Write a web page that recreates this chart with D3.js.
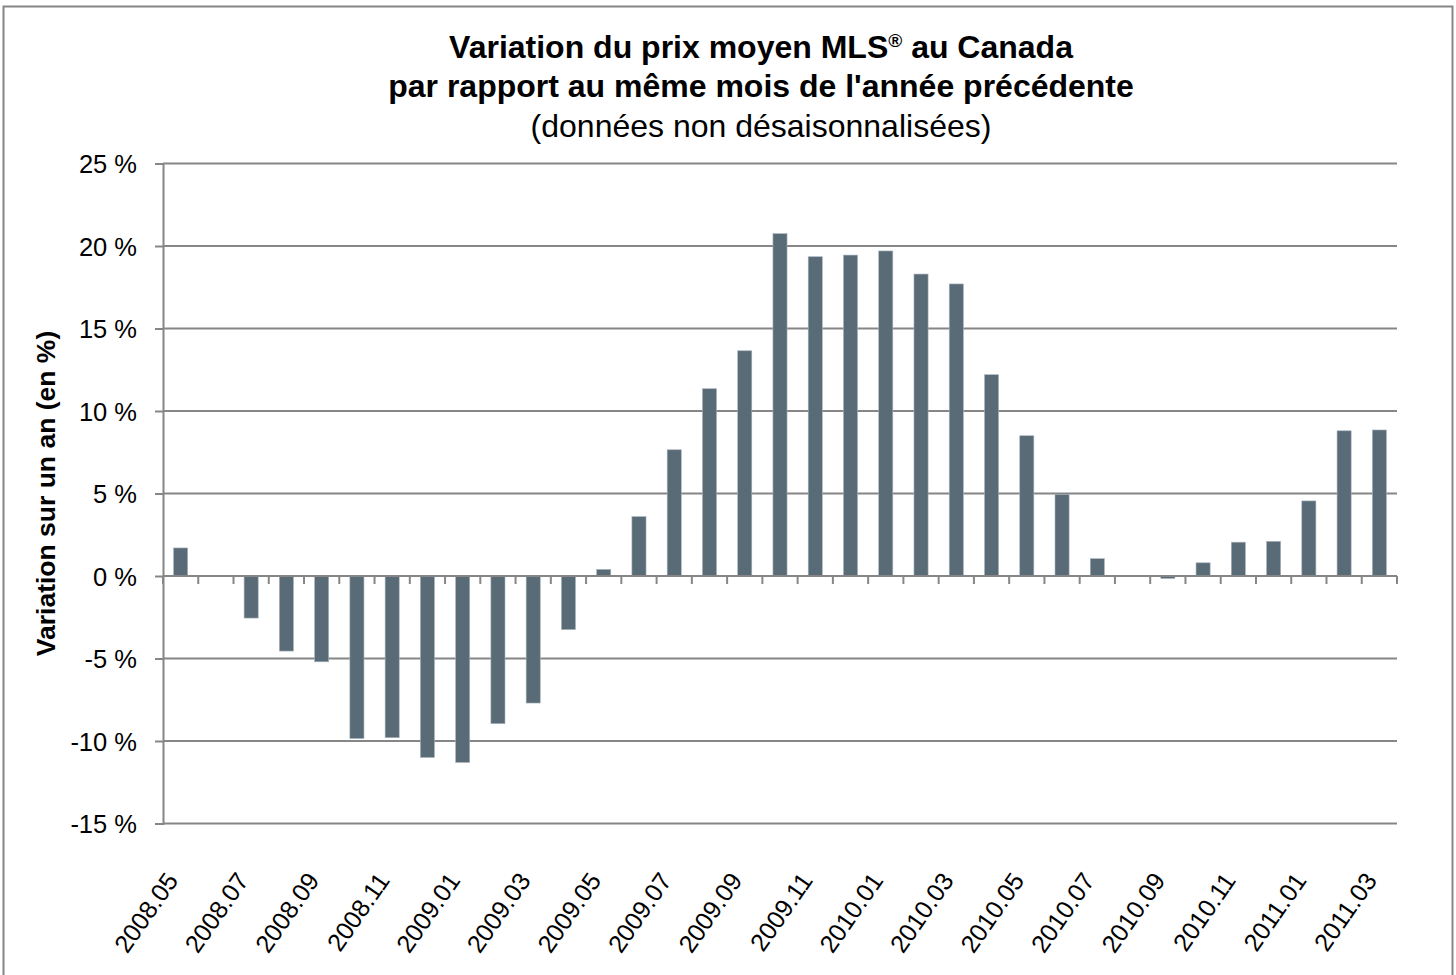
<!DOCTYPE html>
<html>
<head>
<meta charset="utf-8">
<script src="https://cdn.jsdelivr.net/npm/d3@7"></script>
<style>
  body { margin: 0; background: #fff; }
  text { font-family: "Liberation Sans", Arial, sans-serif; fill: #000; }
</style>
</head>
<body>
<div id="chart"></div>
<script>
// months (categories)
const months = [
  "2008.05","2008.06","2008.07","2008.08","2008.09","2008.10","2008.11","2008.12",
  "2009.01","2009.02","2009.03","2009.04","2009.05","2009.06","2009.07","2009.08",
  "2009.09","2009.10","2009.11","2009.12","2010.01","2010.02","2010.03","2010.04",
  "2010.05","2010.06","2010.07","2010.08","2010.09","2010.10","2010.11","2010.12",
  "2011.01","2011.02","2011.03"
];

// year over year change, in %
const changes = [
  1.7, 0, -2.55, -4.55, -5.2, -9.85, -9.8, -11.0,
  -11.3, -8.95, -7.7, -3.25, 0.4, 3.6, 7.65, 11.35,
  13.65, 20.75, 19.35, 19.45, 19.7, 18.3, 17.7, 12.2,
  8.5, 4.95, 1.05, 0, -0.15, 0.8, 2.05, 2.1,
  4.55, 8.8, 8.85
];

// labels shown on the category axis
const tickLabels = [
  "2008.05","2008.07","2008.09","2008.11","2009.01","2009.03","2009.05","2009.07",
  "2009.09","2009.11","2010.01","2010.03","2010.05","2010.07","2010.09","2010.11",
  "2011.01","2011.03"
];

const yTicks = [-15, -10, -5, 0, 5, 10, 15, 20, 25];

const titleLines = [
  "Variation du prix moyen MLS",
  "par rapport au même mois de l'année précédente",
  "(données non désaisonnalisées)"
];
const yTitle = "Variation sur un an (en %)";

let width = 1456, height = 975;
let margin = {top: 163.5, right: 59, bottom: 151, left: 163};
let gridColor = "#868686";
let barColor = "#5a6b78";

let svg = d3.select("#chart").append("svg")
  .attr("width", width)
  .attr("height", height);

// outer frame
svg.append("rect")
  .attr("x", 3.5).attr("y", 6.5)
  .attr("width", 1449).attr("height", 990)
  .attr("fill", "none")
  .attr("stroke", gridColor)
  .attr("stroke-width", 2);

let x = d3.scaleBand()
  .domain(months)
  .range([margin.left, width - margin.right]);

let y = d3.scaleLinear()
  .domain([-15, 25])
  .range([height - margin.bottom - 0.5, margin.top]);

// gridlines
svg.append("g").selectAll("line")
  .data(yTicks)
  .join("line")
  .attr("x1", margin.left).attr("x2", width - margin.right)
  .attr("y1", d => y(d)).attr("y2", d => y(d))
  .attr("stroke", gridColor)
  .attr("stroke-width", 2);

// bars
let barW = x.bandwidth() * 0.4;
svg.append("g").selectAll("rect")
  .data(changes)
  .join("rect")
  .attr("x", (d, i) => x(months[i]) + (x.bandwidth() - barW) / 2)
  .attr("y", d => y(Math.max(0, d)))
  .attr("width", barW)
  .attr("height", d => Math.abs(y(d) - y(0)))
  .attr("fill", barColor)
  .attr("stroke", "#a9b4bc")
  .attr("stroke-width", 0.6);

// y axis
let yAxis = d3.axisLeft(y)
  .tickValues(yTicks)
  .tickSize(8)
  .tickPadding(18)
  .tickFormat(d => d + "\u00a0%");

let gy = svg.append("g")
  .attr("transform", "translate(" + margin.left + ",0)")
  .call(yAxis);
gy.select(".domain").attr("stroke", gridColor).attr("stroke-width", 2);
gy.selectAll(".tick line").attr("stroke", gridColor).attr("stroke-width", 2);
gy.selectAll(".tick text")
  .attr("font-size", 25.5)
  .attr("font-family", "Liberation Sans, Arial, sans-serif")
  .attr("fill", "#000")
  .attr("dy", "0.36em");

// category axis on the zero line
let y0 = y(0);
let bounds = months.map(m => x(m)).concat([x.range()[1]]);
let gx = svg.append("g");
gx.append("line")
  .attr("x1", margin.left).attr("x2", width - margin.right)
  .attr("y1", y0).attr("y2", y0)
  .attr("stroke", gridColor).attr("stroke-width", 2);
gx.selectAll("line.tick")
  .data(bounds)
  .join("line")
  .attr("class", "tick")
  .attr("x1", d => d).attr("x2", d => d)
  .attr("y1", y0).attr("y2", y0 + 8)
  .attr("stroke", gridColor).attr("stroke-width", 2);

// rotated labels, placed below the plot
let labelY = y(-15) + 57;
svg.append("g").selectAll("text")
  .data(tickLabels)
  .join("text")
  .attr("transform", d => "translate(" + (x(d) + x.bandwidth() / 2 - 1.5) + "," + labelY + ") rotate(-55)")
  .attr("text-anchor", "end")
  .attr("font-size", 25)
  .text(d => d);

// y axis title
svg.append("text")
  .attr("transform", "translate(55," + ((y(25) + y(-15)) / 2) + ") rotate(-90)")
  .attr("text-anchor", "middle")
  .attr("font-size", 26.5)
  .attr("font-weight", "bold")
  .text(yTitle);

// title
let cx = 761;
let t1 = svg.append("text")
  .attr("x", cx).attr("y", 58)
  .attr("text-anchor", "middle")
  .attr("font-size", 32)
  .attr("font-weight", "bold");
t1.append("tspan").text(titleLines[0]);
t1.append("tspan").attr("font-size", 19).attr("dy", -11).text("\u00ae");
t1.append("tspan").attr("dy", 11).text(" au Canada");

svg.append("text")
  .attr("x", cx).attr("y", 97)
  .attr("text-anchor", "middle")
  .attr("font-size", 32)
  .attr("font-weight", "bold")
  .text(titleLines[1]);

svg.append("text")
  .attr("x", cx).attr("y", 137)
  .attr("text-anchor", "middle")
  .attr("font-size", 32)
  .text(titleLines[2]);
</script>
</body>
</html>
